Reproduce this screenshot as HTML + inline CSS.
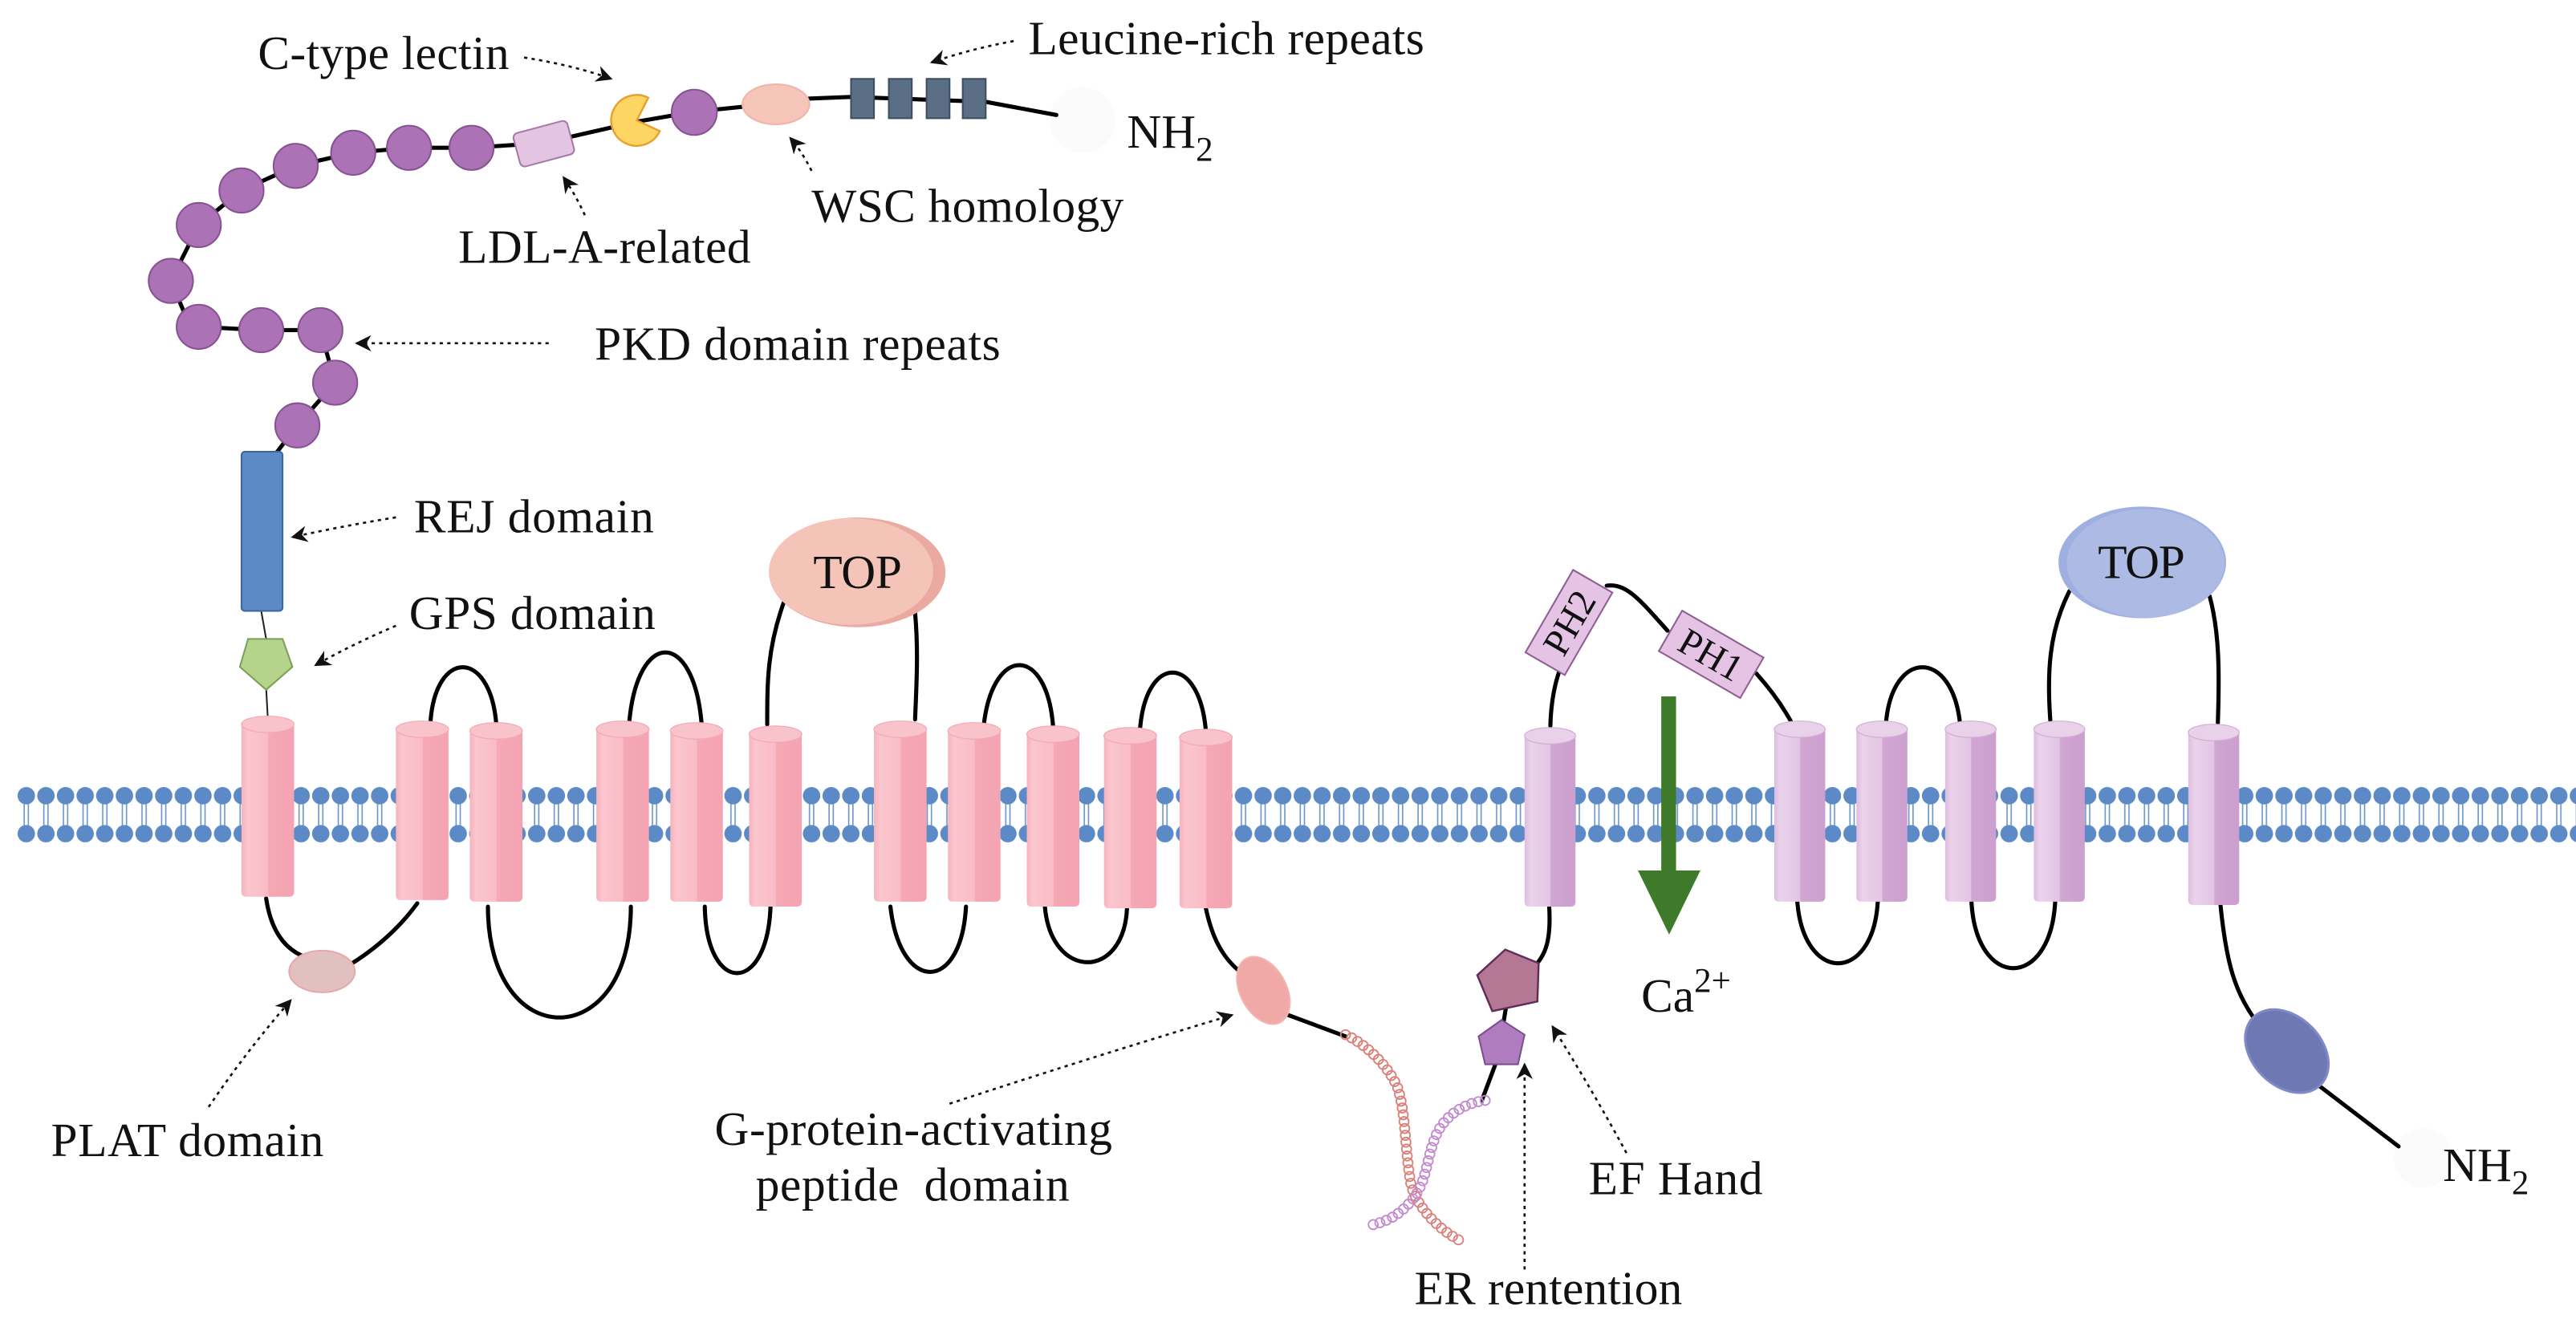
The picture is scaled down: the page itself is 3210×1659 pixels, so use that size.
<!DOCTYPE html>
<html><head><meta charset="utf-8"><style>
html,body{margin:0;padding:0;background:#fff;}
svg{display:block;}
</style></head><body>
<svg xmlns="http://www.w3.org/2000/svg" width="3210" height="1659" viewBox="0 0 1568 810.4" preserveAspectRatio="none">
<defs>
<pattern id="mem" patternUnits="userSpaceOnUse" x="10.02" y="479" width="11.95" height="34">
<line x1="4.7" y1="5" x2="4.7" y2="29" stroke="#6b97cc" stroke-width="0.8"/>
<line x1="7.25" y1="5" x2="7.25" y2="29" stroke="#6b97cc" stroke-width="0.8"/>
<circle cx="5.975" cy="5.5" r="5.3" fill="#5b8ac6"/>
<circle cx="5.975" cy="28.6" r="5.3" fill="#5b8ac6"/>
</pattern>
<linearGradient id="pk" x1="0" x2="1" y1="0" y2="0">
<stop offset="0" stop-color="#f7b3be"/><stop offset="0.12" stop-color="#fbc6ce"/><stop offset="0.5" stop-color="#f9bcc6"/><stop offset="0.52" stop-color="#f5a8b5"/><stop offset="1" stop-color="#f4a3b1"/>
</linearGradient>
<linearGradient id="lc" x1="0" x2="1" y1="0" y2="0">
<stop offset="0" stop-color="#ddbcdf"/><stop offset="0.12" stop-color="#ead3eb"/><stop offset="0.5" stop-color="#e3c5e4"/><stop offset="0.52" stop-color="#d0a6d2"/><stop offset="1" stop-color="#cc9fce"/>
</linearGradient>
<marker id="ah" markerUnits="userSpaceOnUse" markerWidth="12" markerHeight="12" refX="9" refY="5" orient="auto">
<path d="M0,0 L10,5 L0,10 L3,5 Z" fill="#111"/>
</marker>
</defs>

<rect x="10" y="479" width="1558" height="34" fill="url(#mem)"/>

<circle cx="659" cy="73" r="20" fill="#fbfbfb"/>
<circle cx="1475" cy="705" r="18" fill="#fbfbfb"/>

<g fill="none" stroke="#000" stroke-width="2.5" stroke-linecap="round">
<polyline stroke-linejoin="round" points="643,70 600,62 518,59 493,60 472,63 423,68 388,74 331,87 287,90 249,90 215,93 180,101 147,116 121,137 104,171 112,190 121,199 159,201 195,201 204,233 181,259 168,276"/>
<path d="M162,547 Q166,574 184,582"/>
<path d="M212,588 Q238,572 254,550"/>
<path d="M262,440 C265,395 298,395 302,440"/>
<path d="M297,552 C297,642 384,642 384,552"/>
<path d="M383,440 C388,383 422,383 427,440"/>
<path d="M429,552 C430,606 467,606 469,552"/>
<path d="M467,441 C467,415 467,395 477,367"/>
<path d="M557,438 C558,415 559,395 557,373"/>
<path d="M542,552 C548,605 585,605 588,552"/>
<path d="M599,440 C605,393 637,393 641,442"/>
<path d="M636,552 C640,597 684,597 686,553"/>
<path d="M694,443 C698,398 730,398 734,445"/>
<path d="M734,553 C738,572 745,585 758,594"/>
<path d="M776,615 L819,631"/>
<path d="M943.7,442 C944,430 946,418 949,409"/>
<path d="M978,356.6 C990,355 998,365 1015,384"/>
<path d="M1069,410 C1078,420 1085,430 1090,439"/>
<path d="M1148,440 C1152,395 1188,395 1193,440"/>
<path d="M1248,438.5 C1246,410 1247,385 1259.6,360"/>
<path d="M1350,440 C1351,410 1351,385 1345,363"/>
<path d="M1094,549 C1098,599 1140,599 1143,549"/>
<path d="M1200,549 C1203,603 1248,603 1251,549"/>
<path d="M943,552 C944,570 942,582 932,590"/>
<path d="M918,605 L914,630"/>
<path d="M911,646 L902,670"/>
<path d="M1351.6,551 C1355,585 1360,605 1375,624"/>
<path d="M1405,656 L1460,698"/>
</g>
<line x1="159" y1="372" x2="162" y2="389" stroke="#222" stroke-width="1"/>
<line x1="162" y1="419" x2="163" y2="437" stroke="#222" stroke-width="1"/>

<g fill="#ab73b5" stroke="#875292" stroke-width="1">
<circle cx="287" cy="90" r="13.5"/><circle cx="249" cy="90" r="13.5"/><circle cx="215" cy="93" r="13.5"/>
<circle cx="180" cy="101" r="13.5"/><circle cx="147" cy="116" r="13.5"/><circle cx="121" cy="137" r="13.5"/>
<circle cx="104" cy="171" r="13.5"/><circle cx="121" cy="199" r="13.5"/><circle cx="159" cy="201" r="13.5"/>
<circle cx="195" cy="201" r="13.5"/><circle cx="204" cy="233" r="13.5"/><circle cx="181" cy="259" r="13.5"/>
<circle cx="422.6" cy="68.4" r="13.8"/>
</g>
<rect x="314" y="77" width="34" height="21" rx="3" fill="#e3c5e3" stroke="#a779a8" stroke-width="1" transform="rotate(-15 331 87.5)"/>
<path d="M387.6,73.3 L394.6,59.5 A15.5,15.5 0 1 0 401.6,79.8 Z" fill="#fcd562" stroke="#e9a030" stroke-width="1.2"/>
<ellipse cx="472.3" cy="63.5" rx="20.4" ry="12.2" fill="#f4c5b8" stroke="#eeb5a8" stroke-width="1"/>
<g fill="#5a6e86" stroke="#3e4e62" stroke-width="1">
<rect x="518" y="48" width="14" height="24"/><rect x="541" y="48" width="14" height="24"/><rect x="564" y="48" width="14" height="24"/><rect x="586" y="48" width="14" height="24"/>
</g>
<rect x="147" y="275" width="25" height="97" rx="2" fill="#5b8ac4" stroke="#3a67a0" stroke-width="1"/>
<polygon points="151,389 172,389 178,406 162,420 146,406" fill="#b5d38b" stroke="#7aa057" stroke-width="1"/>

<ellipse cx="521.8" cy="348.5" rx="53.7" ry="33.4" fill="#eaaaa2"/>
<ellipse cx="518" cy="348" rx="50" ry="32.5" fill="#f4c4b8"/>
<ellipse cx="1304" cy="342.4" rx="51" ry="34" fill="#9fafe0"/>
<ellipse cx="1306" cy="343" rx="48" ry="33" fill="#adbbe4"/>

<g id="helices"></g>

<ellipse cx="196" cy="591.5" rx="20" ry="12.7" fill="#e2c0c0" stroke="#e6a9ab" stroke-width="1"/>
<ellipse cx="769" cy="603" rx="14" ry="22" fill="#f1a9a8" stroke="#f3b3b3" stroke-width="1" transform="rotate(-28 769 603)"/>
<ellipse cx="1392" cy="640" rx="29" ry="21" fill="#6e79b4" stroke="#7e89c6" stroke-width="1.5" transform="rotate(45 1392 640)"/>

<g font-family="'Liberation Serif', 'Times New Roman', serif" fill="#111">
<g transform="translate(955,379) rotate(-60)">
<rect x="-29" y="-13.8" width="58" height="27.6" fill="#e4c3e4" stroke="#8f5d91" stroke-width="1"/>
<text x="0" y="8" font-size="23" text-anchor="middle">PH2</text></g>
<g transform="translate(1041.6,398.4) rotate(30)">
<rect x="-28.6" y="-14.2" width="57.2" height="28.4" fill="#e4c3e4" stroke="#8f5d91" stroke-width="1"/>
<text x="0" y="8" font-size="23" text-anchor="middle">PH1</text></g>
</g>

<polygon points="919,578 938,589 934,612 906,614 900,591" fill="#b47894" stroke="#5e2d5c" stroke-width="1.2" transform="rotate(-8 919 598)"/>
<polygon points="914,621 928,630 924,648 904,648 900,631" fill="#af7cc0" stroke="#7e4f8e" stroke-width="1"/>

<rect x="1011.2" y="424" width="9" height="110" fill="#3f7a2a"/>
<polygon points="997,530 1035,530 1016,569" fill="#3f7a2a"/>

<g id="coils"></g>
<path id="c1" d="M819,630 C832,636 846,650 851,663 C856,680 855,700 859,722 C863,735 875,748 888,755" fill="none" stroke="none"/>
<path id="c2" d="M904,670 C890,672 878,680 873,694 C868,708 868,720 860,730 C852,740 844,744 834,746" fill="none" stroke="none"/>

<g fill="none" stroke="#111" stroke-width="1.3" stroke-dasharray="2 2.6" marker-end="url(#ah)">
<path d="M319,35 Q350,40 372,48"/>
<path d="M617,25 Q590,30 567,38"/>
<path d="M494,104 Q488,92 481,84"/>
<path d="M356,131 Q350,118 343,108"/>
<path d="M334,209 L217,209"/>
<path d="M241,315 Q210,320 178,327"/>
<path d="M241,381 Q215,392 192,405"/>
<path d="M127,674 Q150,640 177,609"/>
<path d="M578,672 Q660,645 750,618"/>
<path d="M928,773 L928,648"/>
<path d="M990,702 Q970,665 945,625"/>
</g>

<g font-size="29" font-family="'Liberation Serif', 'Times New Roman', serif" fill="#111">
<text x="157" y="42" textLength="153">C-type lectin</text>
<text x="626" y="33" textLength="241">Leucine-rich repeats</text>
<text x="686" y="90">NH<tspan font-size="21" dy="8">2</tspan></text>
<text x="494" y="135" textLength="190">WSC homology</text>
<text x="279" y="160" textLength="178">LDL-A-related</text>
<text x="362" y="219" textLength="247">PKD domain repeats</text>
<text x="252" y="324" textLength="146">REJ domain</text>
<text x="249" y="383" textLength="150">GPS domain</text>
<text x="495" y="358" textLength="54">TOP</text>
<text x="1277" y="352" textLength="53">TOP</text>
<text x="31" y="704" textLength="166">PLAT domain</text>
<text x="435" y="697" textLength="242">G-protein-activating</text>
<text x="460" y="731" textLength="191" xml:space="preserve">peptide  domain</text>
<text x="999" y="616">Ca<tspan font-size="21" dy="-12">2+</tspan></text>
<text x="967" y="727" textLength="106">EF Hand</text>
<text x="861" y="794" textLength="163">ER rentention</text>
<text x="1487" y="719">NH<tspan font-size="21" dy="8">2</tspan></text>
</g>

<script>
(function(){
var NS="http://www.w3.org/2000/svg";
var g=document.getElementById("helices");
function cyl(x,top,bot,w,grad,cap,edge){
  var ry=5, cy=top+ry;
  var p=document.createElementNS(NS,"path");
  p.setAttribute("d","M"+x+","+cy+" L"+x+","+(bot-3)+" Q"+x+","+bot+" "+(x+3)+","+bot+" L"+(x+w-3)+","+bot+" Q"+(x+w)+","+bot+" "+(x+w)+","+(bot-3)+" L"+(x+w)+","+cy+" Z");
  p.setAttribute("fill","url(#"+grad+")");
  g.appendChild(p);
  var e=document.createElementNS(NS,"ellipse");
  e.setAttribute("cx",x+w/2);e.setAttribute("cy",cy);e.setAttribute("rx",w/2);e.setAttribute("ry",ry);
  e.setAttribute("fill",cap);e.setAttribute("stroke",edge);e.setAttribute("stroke-width","0.6");
  g.appendChild(e);
}
var pink=[[147,436,546],[241,439,548],[286,440,549],[363,439,549],[408,440,549],[456,442,552],[532,439,549],[577,440,549],[625,442,552],[672,443,553],[718,444,553]];
pink.forEach(function(h){cyl(h[0],h[1],h[2],32,"pk","#f9c3cb","#f3a9b4");});
var lil=[[928,443,552],[1080,439,549],[1130,439,549],[1184,439,549],[1238,439,549],[1332,441,551]];
lil.forEach(function(h){cyl(h[0],h[1],h[2],31,"lc","#e9d1ea","#d2aed4");});
var cg=document.getElementById("coils");
function coil(id,col){
  var p=document.getElementById(id);var L=p.getTotalLength();
  for(var s=0;s<=L;s+=4.2){
    var pt=p.getPointAtLength(s);
    var c=document.createElementNS(NS,"circle");
    c.setAttribute("cx",pt.x);c.setAttribute("cy",pt.y);c.setAttribute("r","2.9");
    c.setAttribute("fill","none");c.setAttribute("stroke",col);c.setAttribute("stroke-width","0.9");
    cg.appendChild(c);
  }
}
coil("c1","#d98079");
coil("c2","#c48ad0");
})();
</script>
</svg>
</body></html>
